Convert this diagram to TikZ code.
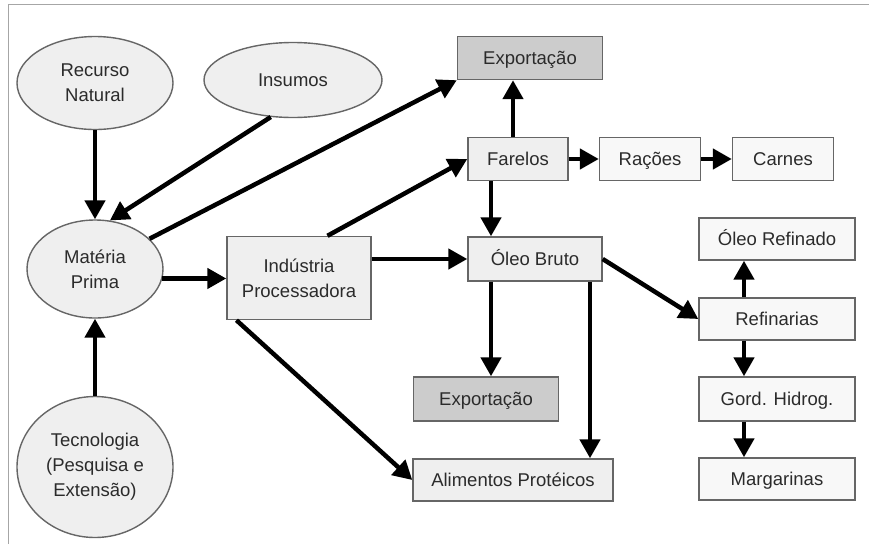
\documentclass[tikz,border=0pt]{standalone}
\usepackage{fontspec}
\setmainfont{Liberation Sans}
\usetikzlibrary{arrows.meta,shapes.geometric,calc}
\definecolor{edgegray}{HTML}{666666}
\definecolor{lightfill}{HTML}{EFEFEF}
\definecolor{palefill}{HTML}{F8F8F8}
\definecolor{darkfill}{HTML}{CCCCCC}
\definecolor{textgray}{HTML}{2B2B2B}

\begin{document}
\begin{tikzpicture}[x=1pt, y=-1pt, node distance=80pt,
	every node/.style = {font=\fontsize{18.5}{25}\selectfont, text=textgray, align=center, inner sep=0pt},
	oval/.style = {draw=edgegray, line width=1.4pt, ellipse, fill=lightfill},
	box/.style = {draw=edgegray, line width=1.4pt, rectangle, fill=lightfill, minimum height=43pt, text height=14pt, text depth=1pt},
	bigbox/.style = {draw=edgegray, line width=1.4pt, rectangle, fill=lightfill},
	palebox/.style = {box, fill=palefill},
	darkbox/.style = {box, fill=darkfill},
	arr/.style = {line width=4.5pt, -{Triangle[length=19pt, width=20pt]}}]
	\useasboundingbox (0,0) rectangle (869,544);
	\draw[black!35, line width=1pt] (8,544) -- (8,4) -- (869,4);
	% left column
	\node[oval, minimum width=156pt, minimum height=93pt] (rn) at (95,83) {Recurso\\Natural};
	\node[oval, minimum width=178pt, minimum height=75pt] (ins) at (293,80) {Insumos};
	\node[oval, minimum width=136pt, minimum height=98pt] (mp) at (95,269) {Matéria\\Prima};
	\node[oval, minimum width=156pt, minimum height=141pt] (tec) at (95,467) {Tecnologia\\(Pesquisa e\\Extensão)};
	\node[bigbox, minimum width=144pt, minimum height=83pt] (ind) at (299,278) {Indústria\\Processadora};
	% middle
	\node[darkbox, minimum width=145pt] (ex1) at (530,58) {Exportação};
	\node[box, minimum width=100pt] (far) at (518,159) {Farelos};
	\node[palebox, minimum width=101pt, node distance=132pt] (rac) [right of=far] {Rações};
	\node[palebox, minimum width=101pt, node distance=133pt] (car) [right of=rac] {Carnes};
	\node[box, minimum width=134pt, minimum height=44pt] (ob) at (535,259) {Óleo Bruto};
	\node[darkbox, minimum width=145pt, minimum height=44pt] (ex2) at (486,399) {Exportação};
	\node[box, minimum width=200pt, minimum height=42pt] (ali) at (513,480) {Alimentos Protéicos};
	% right column
	\node[palebox, minimum width=156pt, minimum height=42pt] (oref) at (777,239) {Óleo Refinado};
	\node[palebox, minimum width=156pt, minimum height=42pt] (ref) [below of=oref] {Refinarias};
	\node[palebox, minimum width=156pt, minimum height=44pt] (gord) [below of=ref] {Gord. Hidrog.};
	\node[palebox, minimum width=156pt, minimum height=42pt] (marg) [below of=gord] {Margarinas};
	\coordinate (c1) at (491,0);
	\coordinate (c2) at (590,0);
	\coordinate (c3) at (513,0);
	\coordinate (c4) at (744,0);
	% arrows
	\draw[arr] (rn) -- (mp);
	\draw[arr] (tec) -- (mp);
	\draw[arr] (ins.239) -- (mp.73);
	\draw[arr] (mp.29) -- (ex1.south west);
	\draw[arr] (mp.-8) -- (mp.-8 -| ind.west);
	\draw[arr] (ind.56) -- (far.west);
	\draw[arr] (ind.east |- ob) -- (ob.west);
	\draw[arr] (ind.214) -- (ali.west);
	\draw[arr] (far.north -| c3) -- (ex1.south -| c3);
	\draw[arr] (far) -- (rac);
	\draw[arr] (rac) -- (car);
	\draw[arr] (far.south -| c1) -- (ob.north -| c1);
	\draw[arr] (ob.south -| c1) -- (ex2.north -| c1);
	\draw[arr] (ob.south -| c2) -- (ali.north -| c2);
	\draw[arr] (ob.east) -- (ref.west);
	\draw[arr] (ref.north -| c4) -- (oref.south -| c4);
	\draw[arr] (ref.south -| c4) -- (gord.north -| c4);
	\draw[arr] (gord.south -| c4) -- (marg.north -| c4);
\end{tikzpicture}
\end{document}
